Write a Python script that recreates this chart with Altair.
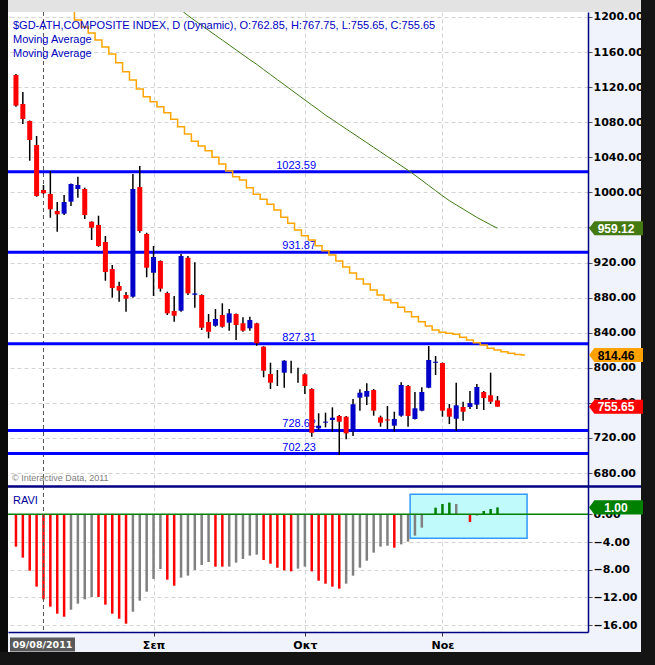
import altair as alt
import pandas as pd

# ---------------- data ----------------
opens = [1133.9, 1100.8, 1081.4, 1054.0, 1002.7, 998.2, 978.8, 975.7, 989.4, 1003.9,
         1003.9, 966.6, 962.8, 943.4, 912.6, 893.3, 883.0, 881.1, 1006.1, 952.6,
         908.4, 921.8, 885.3, 864.8, 865.1, 925.5, 883.3, 883.0, 852.2, 848.0,
         860.2, 851.4, 861.3, 850.7, 845.0, 850.7, 824.0, 792.9, 788.3, 794.4,
         803.2, 790.0, 792.6, 775.8, 731.0, 737.4, 740.5, 745.0, 744.2, 727.1,
         765.9, 767.0, 774.7, 743.5, 741.1, 734.0, 745.4, 779.2, 741.6, 751.1,
         777.3, 805.7, 805.5, 753.8, 741.9, 755.3, 755.3, 757.9, 772.4, 768.6,
         762.85]
highs = [1135.0, 1114.5, 1082.0, 1064.3, 1008.4, 1024.4, 989.0, 997.0, 1010.0, 1017.9,
         1005.4, 967.0, 973.4, 950.3, 917.2, 898.2, 886.4, 1021.0, 1030.1, 954.0,
         938.9, 922.5, 886.8, 881.9, 929.7, 927.5, 920.3, 883.8, 861.3, 867.0,
         873.5, 867.0, 862.0, 857.6, 858.2, 851.4, 824.5, 805.8, 797.5, 808.5,
         808.1, 800.1, 793.7, 776.6, 748.1, 748.8, 754.9, 746.2, 745.0, 764.4,
         775.5, 782.3, 775.8, 745.4, 756.4, 749.9, 783.4, 780.4, 772.4, 777.7,
         824.8, 813.4, 806.0, 758.7, 783.0, 761.3, 773.5, 781.5, 773.5, 794.4,
         767.75]
lows = [1097.7, 1078.0, 1036.1, 995.0, 998.0, 971.1, 955.2, 974.2, 984.5, 994.0,
        969.7, 945.7, 938.0, 899.3, 880.0, 875.4, 863.9, 880.0, 954.0, 903.2,
        881.9, 886.8, 860.2, 852.6, 864.0, 883.0, 868.5, 843.1, 833.6, 846.8,
        845.7, 842.3, 831.7, 841.1, 842.3, 825.2, 789.2, 775.8, 779.2, 777.3,
        793.7, 783.0, 770.1, 721.4, 729.1, 732.1, 727.1, 700.5, 718.4, 722.2,
        751.1, 757.6, 745.4, 732.8, 730.2, 727.1, 744.2, 732.8, 741.0, 750.5,
        776.7, 791.8, 744.2, 735.9, 727.9, 739.7, 753.0, 753.0, 751.9, 758.7,
        755.65]
closes = [1098.9, 1083.7, 1059.7, 995.9, 999.0, 980.7, 975.0, 989.0, 1009.6, 1008.4,
          974.2, 959.7, 938.9, 909.2, 891.0, 887.9, 878.8, 1003.9, 956.0, 914.1,
          926.3, 890.2, 862.1, 859.4, 927.5, 884.9, 884.8, 845.7, 841.1, 855.6,
          846.8, 862.1, 848.8, 842.3, 854.5, 827.9, 796.7, 783.0, 788.3, 808.1,
          803.2, 790.0, 779.2, 725.9, 734.0, 738.6, 743.1, 738.5, 725.2, 758.4,
          771.6, 773.5, 751.1, 737.4, 739.9, 741.6, 780.4, 745.0, 753.8, 772.4,
          808.9, 806.9, 751.1, 744.2, 757.2, 749.9, 759.8, 778.1, 765.5, 761.3,
          755.65]

ma_fast_start = 8
ma_fast = [1212.0, 1196.6, 1188.6, 1181.8, 1173.8, 1165.8, 1157.8, 1147.9, 1137.6, 1128.2,
           1117.9, 1109.1, 1103.4, 1097.7, 1090.9, 1083.3, 1074.9, 1066.6, 1058.3, 1052.9,
           1047.5, 1040.0, 1032.4, 1024.4, 1017.9, 1014.1, 1005.4, 997.8, 992.1, 986.4,
           979.9, 971.6, 964.8, 957.1, 950.6, 945.7, 939.2, 933.5, 928.6, 921.8,
           914.9, 908.1, 901.2, 895.5, 888.7, 883.0, 877.3, 874.2, 869.0, 863.9,
           858.2, 852.5, 847.6, 843.1, 840.5, 839.3, 838.2, 834.8, 831.7, 828.6,
           826.0, 822.2, 820.3, 818.3, 816.5, 815.2, 814.46]

ma_slow_start = 24
ma_slow = [1208.0, 1201.7, 1196.0, 1190.4, 1184.8, 1179.2, 1173.7, 1168.1, 1162.5, 1156.9,
           1151.3, 1146.0, 1140.1, 1134.3, 1128.5, 1122.8, 1117.0, 1111.2, 1105.4, 1099.7,
           1094.0, 1088.1, 1083.0, 1077.6, 1072.4, 1067.2, 1061.9, 1056.7, 1051.4, 1046.2,
           1040.9, 1035.7, 1030.4, 1025.2, 1019.6, 1013.8, 1007.9, 1002.0, 996.1, 990.6,
           985.8, 981.1, 976.3, 971.5, 967.3, 963.1, 959.12]

ravi = [-4.67, -6.26, -8.14, -10.45, -12.28, -13.34, -14.35, -14.79, -13.78, -12.91,
        -12.28, -11.95, -11.95, -13.05, -14.35, -15.08, -15.80, -14.07, -12.48, -11.18,
        -9.34, -7.90, -9.44, -10.31, -9.15, -8.86, -8.04, -7.32, -6.89, -7.56,
        -7.56, -7.56, -6.98, -6.45, -5.97, -5.83, -6.60, -7.13, -7.71, -8.09,
        -8.24, -7.85, -7.56, -8.24, -9.59, -10.02, -10.45, -10.74, -10.02, -8.86,
        -7.71, -6.70, -5.54, -4.67, -4.53, -4.82, -4.34, -3.95, -3.08, -1.93,
        0.0, 0.96, 1.49, 1.69, 1.49, 0.0, -1.11, -0.19, 0.48, 0.77,
        1.00]
ravi_kind = (["r"] * 8 + ["n"] * 4 + ["r"] * 5 + ["n"] * 5 + ["r"] * 2 + ["n"] * 5 +
             ["r"] * 2 + ["n"] * 5 + ["r"] * 5 + ["n"] * 2 + ["r"] * 5 + ["n"] * 7 +
             ["r"] + ["n"] * 4 + ["g"] * 4 + ["n"] * 2 + ["r"] + ["n"] + ["g"] * 3)

levels = [1023.59, 931.87, 827.31, 728.62, 702.23]
price_ticks = [680, 720, 760, 800, 840, 880, 920, 960, 1000, 1040, 1080, 1120, 1160, 1200]
ravi_ticks = [0, -4, -8, -12, -16]
month_idx = [20, 42, 62]
month_lbl = ["Σεπ", "Οκτ", "Νοε"]
marker_idx = 4
marker_lbl = "09/08/2011"
box_x = [57.3, 74.3]
box_y = [2.89, -3.47]

title_lines = ["$GD-ATH,COMPOSITE INDEX, D (Dynamic), O:762.85, H:767.75, L:755.65, C:755.65",
               "Moving Average", "Moving Average"]
copyright_txt = "© Interactive Data, 2011"
tag_vals = [ma_slow[-1], ma_fast[-1], closes[-1]]
tag_fill = ["#457a12", "#ffa200", "#ff0000"]
tag_text = ["white", "black", "white"]

# ---------------- frames ----------------
n = len(opens)
candles = pd.DataFrame({"i": list(range(n)), "o": opens, "h": highs, "l": lows, "c": closes})
candles["dir"] = ["up" if c >= o else "down" for o, c in zip(opens, closes)]
fast_df = pd.DataFrame({"i": list(range(ma_fast_start, ma_fast_start + len(ma_fast))), "v": ma_fast})
slow_df = pd.DataFrame({"i": list(range(ma_slow_start, ma_slow_start + len(ma_slow))), "v": ma_slow})
ravi_df = pd.DataFrame({"i": list(range(n)), "r": ravi, "k": ravi_kind, "zero": [0.0] * n})
lev_df = pd.DataFrame({"v": levels})
one = pd.DataFrame({"a": [0]})

X_SCALE = alt.Scale(domain=[-0.43, 82.43], nice=False, zero=False)
Y_TOP = alt.Scale(domain=[665.2, 1205.7], nice=False, zero=False)
Y_BOT = alt.Scale(domain=[-17.0, 4.09], nice=False, zero=False)

NAVY = "#000080"
grid_kw = dict(grid=True, gridColor="#d4d4d4", gridDash=[4, 3], gridWidth=1)
lab_kw = dict(labelFont="DejaVu Sans", labelFontWeight="bold", labelFontSize=11, labelColor="black")

expr = "''"
for v, t in zip(reversed(month_idx), reversed(month_lbl)):
    expr = f"datum.value == {v} ? '{t}' : ({expr})"

x_axis_top = alt.Axis(values=month_idx, labels=False, ticks=False, domain=False, title=None, **grid_kw)
x_axis_bot = alt.Axis(values=month_idx, labelExpr=expr, title=None, domainColor=NAVY, domainWidth=1.5,
                      tickColor="#333", tickSize=4, labelPadding=3, **grid_kw, **lab_kw)
y_axis_top = alt.Axis(orient="right", values=price_ticks, format=".2f", title=None, domainColor=NAVY,
                      domainWidth=1.5, tickColor="#555", tickSize=4, labelPadding=1, **grid_kw, **lab_kw)
y_axis_bot = alt.Axis(orient="right", values=ravi_ticks, format=".2f", title=None, domainColor=NAVY,
                      domainWidth=1.5, tickColor="#555", tickSize=4, labelPadding=1, **grid_kw, **lab_kw)


def XT(f="i"):
    return alt.X(f"{f}:Q", scale=X_SCALE, axis=x_axis_top)


def YT(f):
    return alt.Y(f"{f}:Q", scale=Y_TOP, axis=y_axis_top)


def XB(f="i"):
    return alt.X(f"{f}:Q", scale=X_SCALE, axis=x_axis_bot)


def YB(f):
    return alt.Y(f"{f}:Q", scale=Y_BOT, axis=y_axis_bot)


def frame_rect(x0, x1, y0, y1, color):
    return alt.Chart(one).mark_rect(color=color, clip=False).encode(
        x=alt.value(x0), x2=alt.value(x1), y=alt.value(y0), y2=alt.value(y1))


TAG_SHAPE = "M -1 0 L -0.8 -0.26 L 1 -0.26 L 1 0.26 L -0.8 0.26 Z"

# ---------------- top panel ----------------
top_layers = [
    frame_rect(-8, 647, -12, 0, "#e3e3e3"),
    frame_rect(-8, 0, -12, 653, "#0a0a0a"),
    frame_rect(633, 647, -12, 653, "#141414"),
    frame_rect(-8, 647, 640, 653, "#141414"),
    alt.Chart(pd.DataFrame({"i": [marker_idx]})).mark_rule(color="#555", strokeDash=[4, 3], strokeWidth=1)
    .encode(x=XT("i")),
    alt.Chart(lev_df).mark_rule(color="#0000ff", strokeWidth=3).encode(y=YT("v")),
    alt.Chart(lev_df).mark_text(align="right", baseline="alphabetic", dy=-3, font="Liberation Sans",
                                fontSize=11, color="#0000ff")
    .encode(x=alt.value(308), y=YT("v"), text=alt.Text("v:Q", format=".2f")),
    alt.Chart(fast_df).mark_line(interpolate="step", color="#ffa500", strokeWidth=1.5, clip=True)
    .encode(x=XT("i"), y=YT("v")),
    alt.Chart(slow_df).mark_line(color="#3f7a12", strokeWidth=1, clip=True).encode(x=XT("i"), y=YT("v")),
    alt.Chart(candles).mark_rule(color="black", strokeWidth=1.5).encode(x=XT("i"), y=YT("l"), y2="h:Q"),
    alt.Chart(candles).mark_bar(size=5).encode(
        x=XT("i"), y=YT("o"), y2="c:Q",
        color=alt.Color("dir:N", scale=alt.Scale(domain=["up", "down"], range=["#0000c8", "#ff0000"]),
                        legend=None)),
]
for k, (t, yy) in enumerate(zip(title_lines, [17, 30.7, 44.7])):
    top_layers.append(alt.Chart(one).mark_text(align="left", baseline="alphabetic", font="Liberation Sans",
                                               fontSize=11, color="#0000c0")
                      .encode(x=alt.value(5), y=alt.value(yy), text=alt.value(t)))
top_layers.append(alt.Chart(one).mark_text(align="left", baseline="alphabetic", font="Liberation Sans",
                                           fontSize=9, color="#808080")
                  .encode(x=alt.value(4), y=alt.value(468.8), text=alt.value(copyright_txt)))
for v, fcol, tcol in zip(tag_vals, tag_fill, tag_text):
    d = pd.DataFrame({"v": [v]})
    top_layers.append(alt.Chart(d).mark_point(shape=TAG_SHAPE, size=2916, filled=True, opacity=1,
                                              color=fcol, strokeWidth=0, clip=False)
                      .encode(x=alt.value(608), y=YT("v")))
    top_layers.append(alt.Chart(d).mark_text(font="Liberation Sans", fontWeight="bold", fontSize=12,
                                             color=tcol, align="center", baseline="middle", dy=0.5)
                      .encode(x=alt.value(608), y=YT("v"), text=alt.Text("v:Q", format=".2f")))

top = alt.layer(*top_layers).properties(width=580, height=474)

# ---------------- bottom panel ----------------
box_df = pd.DataFrame({"x1": [box_x[0]], "x2": [box_x[1]], "y1": [box_y[0]], "y2": [box_y[1]]})
last_df = pd.DataFrame({"r": [ravi[-1]]})
bot_layers = [
    alt.Chart(box_df).mark_rect(fill="#c0fafa", stroke="#3399ff", strokeWidth=1.5)
    .encode(x=XB("x1"), x2="x2:Q", y=YB("y1"), y2="y2:Q"),
    alt.Chart(ravi_df).mark_bar(size=2.5).encode(
        x=XB("i"), y=YB("r"), y2="zero:Q",
        color=alt.Color("k:N", scale=alt.Scale(domain=["r", "n", "g"], range=["#ff0000", "#808080", "#008000"]),
                        legend=None)),
    alt.Chart(pd.DataFrame({"z": [0.0]})).mark_rule(color="#008000", strokeWidth=1.5).encode(y=YB("z")),
    alt.Chart(pd.DataFrame({"i": [marker_idx]})).mark_rule(color="#555", strokeDash=[4, 3], strokeWidth=1)
    .encode(x=XB("i")),
    alt.Chart(one).mark_text(align="left", baseline="alphabetic", font="Liberation Sans", fontSize=11,
                             color="#0000a0")
    .encode(x=alt.value(5), y=alt.value(18), text=alt.value("RAVI")),
    alt.Chart(last_df).mark_point(shape=TAG_SHAPE, size=2916, filled=True, opacity=1, color="#008000",
                                  strokeWidth=0, clip=False).encode(x=alt.value(608), y=YB("r")),
    alt.Chart(last_df).mark_text(font="Liberation Sans", fontWeight="bold", fontSize=12, color="white",
                                 align="center", baseline="middle", dy=0.5)
    .encode(x=alt.value(608), y=YB("r"), text=alt.Text("r:Q", format=".2f")),
    alt.Chart(one).mark_rule(color=NAVY, strokeWidth=2.5, clip=False)
    .encode(x=alt.value(0), x2=alt.value(633), y=alt.value(0.5)),
    alt.Chart(one).mark_rect(color="#5a5a5a", clip=False)
    .encode(x=alt.value(2), x2=alt.value(67), y=alt.value(151.5), y2=alt.value(165.5)),
    alt.Chart(one).mark_text(font="DejaVu Sans", fontWeight="bold", fontSize=9.5, color="white",
                             align="center", baseline="middle")
    .encode(x=alt.value(34.5), y=alt.value(158.8), text=alt.value(marker_lbl)),
]
bottom = alt.layer(*bot_layers).properties(width=580, height=146)

chart = (alt.vconcat(top, bottom, spacing=0, bounds="flush")
         .resolve_scale(x="independent", y="independent", color="independent")
         .properties(padding=0, background="#f0f3fc")
         .configure_view(fill="white", strokeWidth=0))

chart.save("out.html", embed_options={"renderer": "svg", "actions": False})
